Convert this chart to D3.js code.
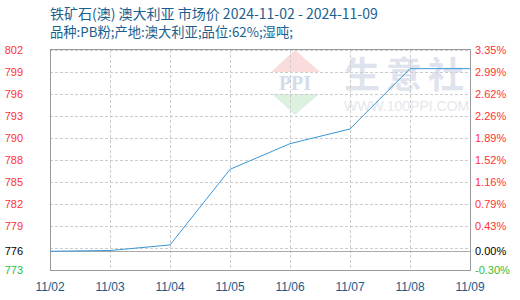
<!DOCTYPE html>
<html><head><meta charset="utf-8">
<script src="https://cdn.jsdelivr.net/npm/d3@7"></script>
<style>body{margin:0;background:#fff;}svg{display:block;}</style>
</head><body>
<svg id="c" width="520" height="300"></svg>
<script>
const dates = ['11/02','11/03','11/04','11/05','11/06','11/07','11/08','11/09'];
const prices = [775.47, 775.57, 776.3, 786.27, 789.65, 791.59, 799.54, 799.54];
const gridValues = [775.9, 778.8, 781.7, 784.6, 787.5, 790.4, 793.3, 796.2, 799.1, 802];
const leftLabels = ['', '779', '782', '785', '788', '790', '793', '796', '799', '802'];
const rightLabels = ['', '0.43%', '0.79%', '1.16%', '1.52%', '1.89%', '2.26%', '2.62%', '2.99%', '3.35%'];
const yMin = 773, yMax = 802;
const baseValue = prices[0];
const baseLeft = '776', baseRight = '0.00%';
const bottomLeft = '773', bottomRight = '-0.30%';
const title = '铁矿石(澳) 澳大利亚 市场价 2024-11-02 - 2024-11-09';
const subtitle = '品种:PB粉;产地:澳大利亚;品位:62%;湿吨;';

const svg = d3.select('#c');
const L = 50, R = 470, T = 50, B = 270;
const x = d3.scalePoint().domain(dates).range([L, R]);
const y = d3.scaleLinear().domain([yMin, yMax]).range([B, T]);
const sans = 'Arial, "Liberation Sans", sans-serif';
const cjk = '"Noto Sans CJK SC", Arial, sans-serif';

// watermark
const wm = svg.append('g');
wm.append('path').attr('d', 'M295,50 L320,72 L271,72 Z').attr('fill', '#fbdcdc');
wm.append('path').attr('d', 'M272,94 L319,94 L295,115 Z').attr('fill', '#dcf1de');
wm.append('text').attr('x', 295).attr('y', 90).attr('text-anchor', 'middle')
  .attr('font-family', '"Liberation Serif", serif').attr('font-weight', 'bold')
  .attr('font-size', 20).attr('fill', '#d3dcea').text('PPI');
wm.append('text').attr('x', 344).attr('y', 88).attr('font-family', cjk).attr('font-weight', 'bold')
  .attr('font-size', 36).attr('letter-spacing', 6).attr('fill', '#dfe3ee').text('生意社');
wm.append('text').attr('x', 344).attr('y', 111).attr('font-family', sans)
  .attr('font-size', 14).attr('fill', '#e5e7ec').text('WWW.100PPI.COM');

// grid
const grid = svg.append('g').attr('stroke', '#cccccc').attr('stroke-dasharray', '3,2').attr('fill', 'none');
grid.selectAll('line.h').data(gridValues).join('line').attr('class', 'h')
  .attr('x1', L).attr('x2', R)
  .attr('y1', d => Math.round(y(d)) + 0.5).attr('y2', d => Math.round(y(d)) + 0.5);
grid.selectAll('line.v').data(dates.slice(1, -1)).join('line').attr('class', 'v')
  .attr('y1', T).attr('y2', B)
  .attr('x1', d => Math.round(x(d)) + 0.5).attr('x2', d => Math.round(x(d)) + 0.5);

// baseline
svg.append('line').attr('x1', L).attr('x2', R)
  .attr('y1', Math.round(y(baseValue)) + 0.5).attr('y2', Math.round(y(baseValue)) + 0.5)
  .attr('stroke', '#aaaaaa');

// border
svg.append('rect').attr('x', L + 0.5).attr('y', T - 0.5).attr('width', R - L).attr('height', B - T + 1)
  .attr('fill', 'none').attr('stroke', '#999999');

// line
svg.append('path').datum(prices)
  .attr('d', d3.line().x((d, i) => x(dates[i])).y(d => y(d)))
  .attr('fill', 'none').attr('stroke', '#3a96d8').attr('stroke-width', 1);

// axis labels
const lab = svg.append('g').attr('font-family', sans).attr('font-size', 11);
lab.selectAll('text.l').data(gridValues).join('text').attr('class', 'l')
  .attr('x', 23).attr('text-anchor', 'end').attr('y', d => y(d)).attr('dy', '0.35em')
  .attr('fill', '#ff3333').text((d, i) => leftLabels[i]);
lab.selectAll('text.r').data(gridValues).join('text').attr('class', 'r')
  .attr('x', 475).attr('y', d => y(d)).attr('dy', '0.35em')
  .attr('fill', '#ff3333').text((d, i) => rightLabels[i]);
lab.append('text').attr('x', 23).attr('text-anchor', 'end').attr('y', y(baseValue)).attr('dy', '0.35em').attr('fill', '#000').text(baseLeft);
lab.append('text').attr('x', 475).attr('y', y(baseValue)).attr('dy', '0.35em').attr('fill', '#000').text(baseRight);
lab.append('text').attr('x', 23).attr('text-anchor', 'end').attr('y', y(yMin)).attr('dy', '0.35em').attr('fill', '#33bb33').text(bottomLeft);
lab.append('text').attr('x', 475).attr('y', y(yMin)).attr('dy', '0.35em').attr('fill', '#33bb33').text(bottomRight);

// x labels
svg.append('g').attr('font-family', sans).attr('font-size', 12).attr('fill', '#1a5a8a')
  .selectAll('text').data(dates).join('text')
  .attr('x', d => x(d)).attr('y', 291).attr('text-anchor', 'middle').text(d => d);

// titles
svg.append('text').attr('x', 50).attr('y', 19).attr('font-family', cjk).attr('font-size', 14)
  .attr('fill', '#1a5f8f').text(title);
svg.append('text').attr('x', 50).attr('y', 37).attr('font-family', cjk).attr('font-size', 13.3)
  .attr('fill', '#1a5f8f').text(subtitle);
</script>
</body></html>
